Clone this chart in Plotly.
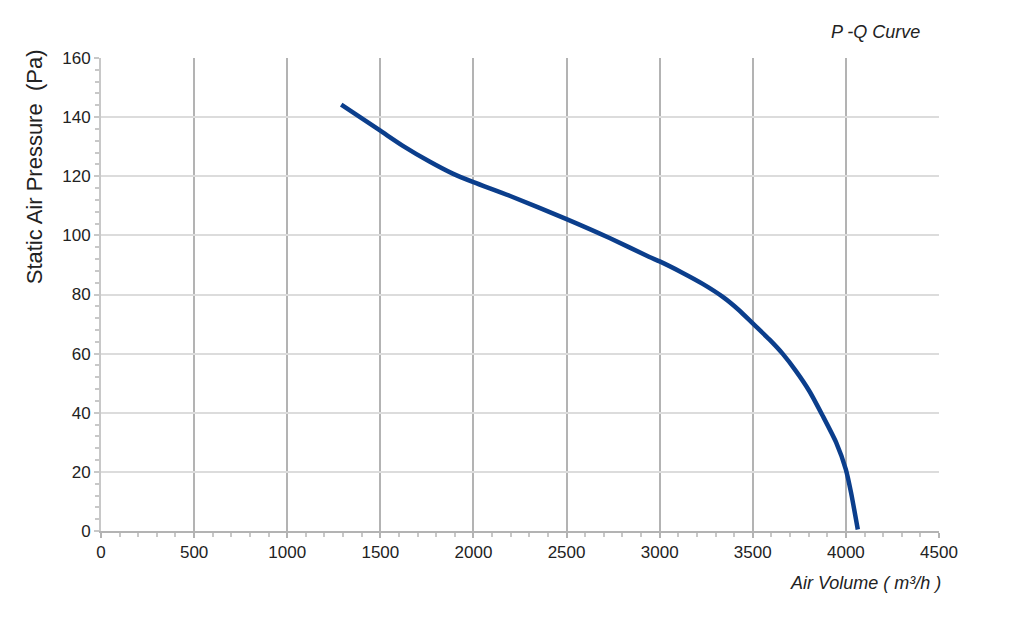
import plotly.graph_objects as go

# Data
air_volume = [1290, 1500, 1621, 1764, 1889, 2000, 2194, 2500, 2731, 2945, 3000, 3124,
              3231, 3339, 3428, 3500, 3589, 3661, 3733, 3805, 3876, 3948, 4000, 4028, 4064]
static_pressure = [144.2, 135.4, 130.3, 125.0, 120.9, 118.0, 113.4, 105.5, 99.1, 92.7, 91.2, 87.3,
                   83.6, 79.2, 74.6, 70.2, 64.8, 59.9, 54.0, 47.2, 38.9, 29.9, 20.8, 12.9, 0.5]

x_ticks = [0, 500, 1000, 1500, 2000, 2500, 3000, 3500, 4000, 4500]
y_ticks = [0, 20, 40, 60, 80, 100, 120, 140, 160]

FONT = "Liberation Sans, Arial, sans-serif"

fig = go.Figure()
fig.add_trace(go.Scatter(
    x=air_volume, y=static_pressure, mode="lines",
    line=dict(color="#0b3e8c", width=4.5, shape="spline", smoothing=0.6),
    showlegend=False, hoverinfo="x+y",
))

fig.update_layout(
    width=1016, height=610,
    margin=dict(l=93, r=85, t=50, b=87),
    paper_bgcolor="white", plot_bgcolor="white",
    font=dict(family=FONT, size=17, color="#222"),
    xaxis=dict(
        range=[0, 4500], tickvals=x_ticks, ticktext=[str(v) for v in x_ticks],
        showgrid=True, gridcolor="#b3b3b3", gridwidth=2,
        showline=True, linecolor="#b3b3b3", linewidth=2,
        ticks="outside", ticklen=5, tickcolor="#b3b3b3", tickwidth=2,
        minor=dict(dtick=100, ticks="outside", ticklen=4, tickcolor="#c8c8c8", tickwidth=2, showgrid=False),
        zeroline=False, fixedrange=True,
        tickfont=dict(size=17, color="#222"),
    ),
    yaxis=dict(
        range=[0, 160], tickvals=y_ticks, ticktext=[str(v) for v in y_ticks],
        showgrid=True, gridcolor="#dcdcdc", gridwidth=2,
        showline=True, linecolor="#c8c8c8", linewidth=2,
        ticks="outside", ticklen=5, tickcolor="#c8c8c8", tickwidth=2,
        minor=dict(dtick=4, ticks="outside", ticklen=4, tickcolor="#c8c8c8", tickwidth=2, showgrid=False),
        zeroline=False, fixedrange=True,
        tickfont=dict(size=17, color="#222"),
    ),
    annotations=[
        dict(text="Static Air Pressure&nbsp; (Pa)", xref="paper", yref="paper",
             x=-0.080, y=0.771, xanchor="center", yanchor="middle", textangle=-90,
             showarrow=False, font=dict(family=FONT, size=22, color="#222")),
        dict(text="<i>Air Volume ( m³/h )</i>", xref="paper", yref="paper",
             x=1.005, y=-0.11, xanchor="right", yanchor="middle",
             showarrow=False, font=dict(family=FONT, size=18, color="#222")),
        dict(text="<i>P -Q Curve</i>", xref="paper", yref="paper",
             x=0.98, y=1.055, xanchor="right", yanchor="middle",
             showarrow=False, font=dict(family=FONT, size=18, color="#222")),
    ],
)

fig.write_html("out.html")
